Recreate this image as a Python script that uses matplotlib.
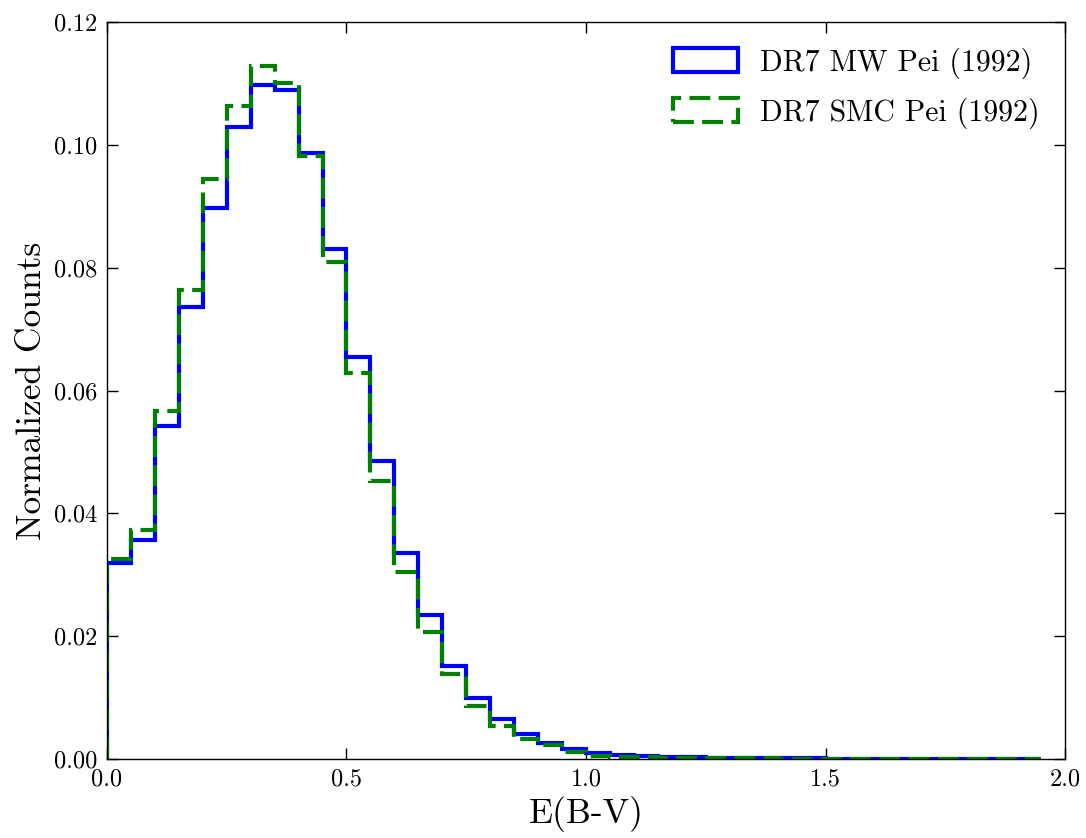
import numpy as np
import matplotlib
matplotlib.use('Agg')
import matplotlib.pyplot as plt

plt.rcParams['font.family'] = 'serif'
plt.rcParams['font.serif'] = ['cmr10']
plt.rcParams['mathtext.fontset'] = 'cm'
plt.rcParams['axes.formatter.use_mathtext'] = True

# histogram bins in E(B-V), width 0.05
edges = np.round(np.arange(0.0, 2.0, 0.05), 2)
centers = edges[:-1] + 0.025

# normalized counts
mw = [0.0319, 0.0357, 0.0543, 0.0736, 0.0898, 0.1029, 0.1098, 0.1089, 0.0987, 0.0830,
      0.0655, 0.0485, 0.0335, 0.0234, 0.0151, 0.0099, 0.0065, 0.0040, 0.0026, 0.0016,
      0.0009, 0.0007, 0.0005, 0.0004, 0.0003, 0.0002, 0.00015, 0.0001, 0.0001, 0.00008,
      0.00006, 0.00005, 0.00004, 0.00003, 0.00003, 0.00002, 0.00002, 0.00001, 0.00001]
smc = [0.0326, 0.0373, 0.0567, 0.0763, 0.0944, 0.1063, 0.1129, 0.1101, 0.0982, 0.0809,
       0.0628, 0.0453, 0.0305, 0.0207, 0.0138, 0.0086, 0.0053, 0.0033, 0.0023, 0.0011,
       0.0005, 0.0004, 0.0003, 0.0002, 0.00015, 0.0001, 0.0001, 0.00008, 0.00006, 0.00005,
       0.00004, 0.00003, 0.00003, 0.00002, 0.00002, 0.00001, 0.00001, 0.00001, 0.00001]

labels = ['DR7 MW Pei (1992)', 'DR7 SMC Pei (1992)']

fig = plt.figure(figsize=(10.86, 8.38), dpi=100)
ax = fig.add_axes([0.0985, 0.0943, 0.8822, 0.8794])

ax.hist(centers, bins=edges, weights=mw, histtype='step', color='b', lw=3, label=labels[0])
ax.hist(centers, bins=edges, weights=smc, histtype='step', color='g', lw=3,
        ls=(0, (5, 2)), label=labels[1])

ax.set_xlim(0, 2.0)
ax.set_ylim(0, 0.12)
ax.set_xticks([0.0, 0.5, 1.0, 1.5, 2.0])
ax.set_yticks(np.arange(0, 0.121, 0.02))
ax.xaxis.set_major_formatter(matplotlib.ticker.FormatStrFormatter('%.1f'))
ax.yaxis.set_major_formatter(matplotlib.ticker.FormatStrFormatter('%.2f'))
ax.tick_params(direction='in', top=True, right=True, length=8, width=1, labelsize=17.5, pad=7)
for s in ax.spines.values():
    s.set_linewidth(1)

ax.set_xlabel('E(B-V)', fontsize=25.5)
ax.set_ylabel('Normalized Counts', fontsize=25.5)
ax.legend(loc='upper right', frameon=False, fontsize=21.5, handlelength=2.15,
          handleheight=0.85, handletextpad=0.75, labelspacing=0.62, borderaxespad=0.45)

fig.savefig('out.png', dpi=100)
